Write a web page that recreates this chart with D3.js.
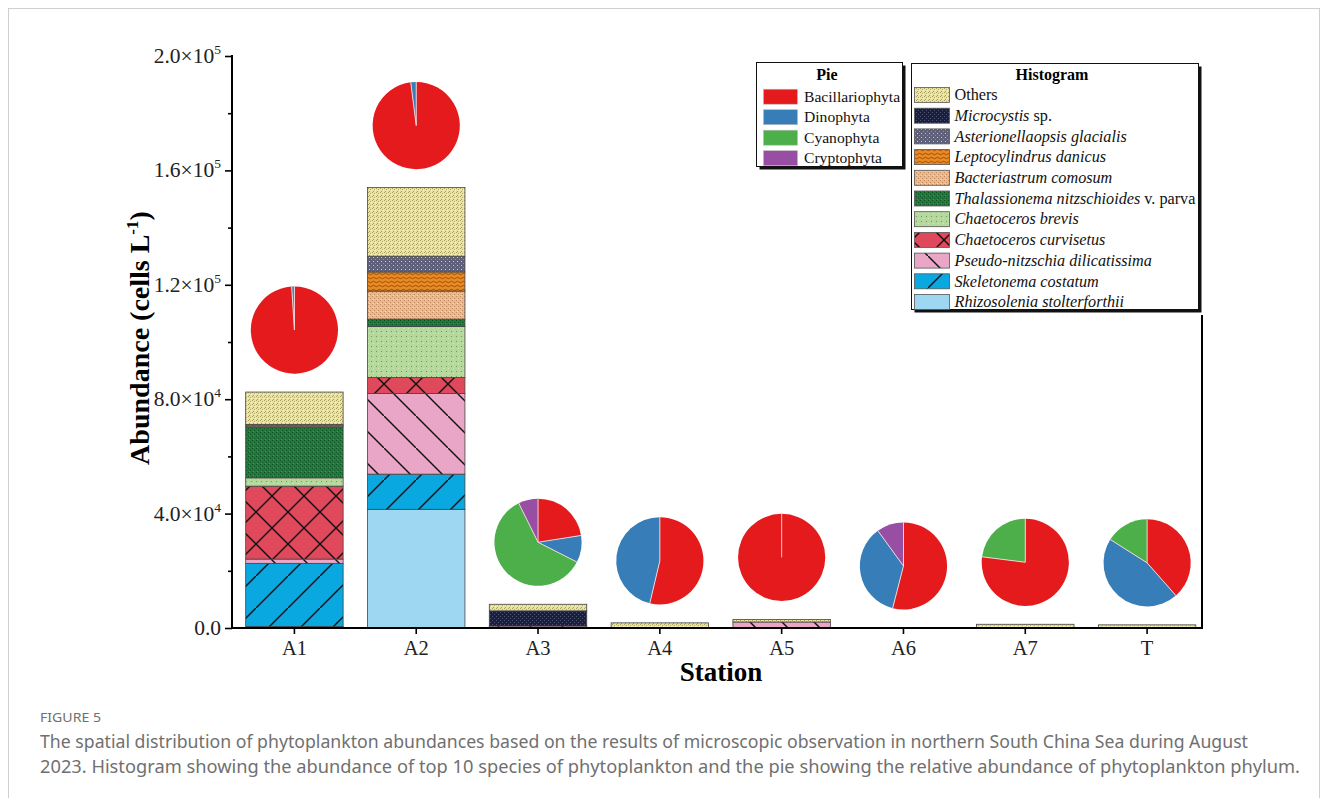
<!DOCTYPE html>
<html>
<head>
<meta charset="utf-8">
<script src="https://cdn.jsdelivr.net/npm/d3@7"></script>
<style>
  body { margin: 0; background: #fff; }
  svg { display: block; }
</style>
</head>
<body>
<svg id="chart" width="1328" height="798"></svg>
<script>
// ---- Data -------------------------------------------------------------
const stations = ["A1", "A2", "A3", "A4", "A5", "A6", "A7", "T"];

// Abundance of the top 10 species (cells L-1), stacked bottom to top
const rhizosolenia      = [500, 41500, 0, 0, 0, 0, 0, 0];
const skeletonema       = [22100, 12300, 0, 0, 0, 0, 0, 0];
const pseudoNitzschia   = [1500, 28200, 700, 0, 2100, 0, 0, 0];
const curvisetus        = [25500, 5600, 0, 0, 0, 0, 0, 0];
const brevis            = [2900, 17800, 0, 0, 0, 0, 0, 0];
const thalassionema     = [17800, 2600, 0, 0, 0, 0, 0, 0];
const bacteriastrum     = [400, 9800, 0, 0, 0, 0, 0, 0];
const leptocylindrus    = [500, 6700, 0, 0, 0, 0, 0, 0];
const asterionellaopsis = [0, 5500, 0, 0, 0, 0, 0, 0];
const microcystis       = [0, 0, 5300, 0, 0, 0, 0, 0];
const others            = [11300, 24000, 2300, 1800, 900, 0, 1300, 1100];

// Relative abundance of phyla (%) per station
const bacillariophyta = [99, 98, 22.5, 53.7, 100, 54, 77, 38.5];
const dinophyta       = [1, 2, 10, 46.3, 0, 36, 0, 45.5];
const cyanophyta      = [0, 0, 60.2, 0, 0, 0, 23, 16];
const cryptophyta     = [0, 0, 7.3, 0, 0, 10, 0, 0];

// Axis ticks
const yMajorTicks = [0, 40000, 80000, 120000, 160000, 200000];
const yMinorTicks = [20000, 60000, 100000, 140000, 180000];

// ---- Series definitions ------------------------------------------------
const speciesKeys = ["rhizosolenia", "skeletonema", "pseudoNitzschia", "curvisetus", "brevis",
  "thalassionema", "bacteriastrum", "leptocylindrus", "asterionellaopsis", "microcystis", "others"];
const speciesSeries = { rhizosolenia, skeletonema, pseudoNitzschia, curvisetus, brevis,
  thalassionema, bacteriastrum, leptocylindrus, asterionellaopsis, microcystis, others };
const speciesLabels = {
  others: [["Others", false]],
  microcystis: [["Microcystis", true], [" sp.", false]],
  asterionellaopsis: [["Asterionellaopsis glacialis", true]],
  leptocylindrus: [["Leptocylindrus danicus", true]],
  bacteriastrum: [["Bacteriastrum comosum", true]],
  thalassionema: [["Thalassionema nitzschioides", true], [" v. parva", false]],
  brevis: [["Chaetoceros brevis", true]],
  curvisetus: [["Chaetoceros curvisetus", true]],
  pseudoNitzschia: [["Pseudo-nitzschia dilicatissima", true]],
  skeletonema: [["Skeletonema costatum", true]],
  rhizosolenia: [["Rhizosolenia stolterforthii", true]]
};

const phylumNames = ["Bacillariophyta", "Dinophyta", "Cyanophyta", "Cryptophyta"];
const phylumSeries = [bacillariophyta, dinophyta, cyanophyta, cryptophyta];
const phylumColors = ["#e41a1c", "#377eb8", "#4daf4a", "#984ea3"];

// ---- Layout -------------------------------------------------------------
const svg = d3.select("#chart");
const serif = "'Liberation Serif', 'Times New Roman', serif";
const plot = { left: 232, right: 1202, top: 56, bottom: 628 };

const x = d3.scaleBand().domain(stations).range([233.5, 1208]).paddingInner(0.2).paddingOuter(0.1);
const y = d3.scaleLinear().domain([0, 200000]).range([plot.bottom, plot.top]);

// Outer figure frame
svg.append("rect").attr("x", 8.5).attr("y", 8.5).attr("width", 1311).attr("height", 800)
  .attr("fill", "none").attr("stroke", "#cfcfcf").attr("stroke-width", 1);

// ---- Fill patterns ------------------------------------------------------
const defs = svg.append("defs");

function dotPattern(id, base, size, dots) {
  const p = defs.append("pattern").attr("id", id).attr("patternUnits", "userSpaceOnUse")
    .attr("width", size).attr("height", size);
  p.append("rect").attr("width", size).attr("height", size).attr("fill", base);
  dots.forEach(([dx, dy, c]) => p.append("rect").attr("x", dx).attr("y", dy)
    .attr("width", 1).attr("height", 1).attr("fill", c));
}
function hatchPattern(id, base, paths) {
  const s = 32;
  const p = defs.append("pattern").attr("id", id).attr("patternUnits", "userSpaceOnUse")
    .attr("width", s).attr("height", s);
  p.append("rect").attr("width", s).attr("height", s).attr("fill", base);
  paths.forEach(d => p.append("path").attr("d", d).attr("stroke", "#111")
    .attr("stroke-width", 1.4).attr("fill", "none"));
}

dotPattern("p-others", "#e8e2a4", 4, [[0, 0, "#a9a05c"], [2, 1, "#b5ac68"], [1, 3, "#a9a05c"], [3, 2, "#f6f2cf"]]);
dotPattern("p-microcystis", "#1b1f38", 4, [[0, 0, "#4b5275"], [2, 2, "#4b5275"]]);
dotPattern("p-asterionellaopsis", "#5e6079", 4, [[1, 1, "#c9cbd8"], [3, 3, "#8d8fa5"]]);
dotPattern("p-bacteriastrum", "#ecb98e", 4, [[0, 0, "#c08a60"], [2, 2, "#c08a60"], [1, 3, "#f7d9bd"]]);
dotPattern("p-thalassionema", "#1f7b3b", 4, [[0, 0, "#0f4f23"], [2, 2, "#0f4f23"], [1, 3, "#3d9b58"]]);
dotPattern("p-brevis", "#b5d99c", 5, [[1, 1, "#6f9c5c"], [3, 3, "#cfe7bd"]]);
{
  const p = defs.append("pattern").attr("id", "p-leptocylindrus").attr("patternUnits", "userSpaceOnUse")
    .attr("width", 6).attr("height", 4);
  p.append("rect").attr("width", 6).attr("height", 4).attr("fill", "#e88a26");
  p.append("path").attr("d", "M0,2 Q1.5,0.5 3,2 T6,2").attr("stroke", "#8a4300")
    .attr("stroke-width", 0.8).attr("fill", "none");
}
hatchPattern("p-curvisetus", "#e0495b", ["M0,0 L32,32", "M0,32 L32,0"]);
hatchPattern("p-pseudoNitzschia", "#eaa6c7", ["M0,0 L32,32"]);
hatchPattern("p-skeletonema", "#0aa8e0", ["M0,32 L32,0"]);
defs.append("pattern").attr("id", "p-rhizosolenia").attr("patternUnits", "userSpaceOnUse")
  .attr("width", 4).attr("height", 4)
  .append("rect").attr("width", 4).attr("height", 4).attr("fill", "#9ed7f1");

const fillOf = k => `url(#p-${k})`;

// ---- Stacked bars ---------------------------------------------------------
const table = stations.map((s, i) => {
  const row = { station: s };
  speciesKeys.forEach(k => row[k] = speciesSeries[k][i]);
  return row;
});
const stacked = d3.stack().keys(speciesKeys)(table);

const barLayer = svg.append("g");
stacked.forEach(layer => {
  barLayer.append("g")
    .selectAll("rect")
    .data(layer.filter(d => d[1] - d[0] > 0))
    .join("rect")
    .attr("x", d => x(d.data.station))
    .attr("width", x.bandwidth())
    .attr("y", d => y(d[1]))
    .attr("height", d => y(d[0]) - y(d[1]))
    .attr("fill", fillOf(layer.key))
    .attr("stroke", "#444")
    .attr("stroke-width", 0.8);
});

// ---- Pies above each bar ----------------------------------------------------
const pieR = 43.6;
const pieGen = d3.pie().sort(null).value(d => d.v).startAngle(0).endAngle(2 * Math.PI);
const arcGen = d3.arc().innerRadius(0).outerRadius(pieR);
const totals = table.map(r => d3.sum(speciesKeys, k => r[k]));

stations.forEach((s, i) => {
  const cx = x(s) + x.bandwidth() / 2;
  const cy = y(totals[i]) - 62;
  const slices = pieGen(phylumNames.map((n, j) => ({ n, v: phylumSeries[j][i], c: phylumColors[j] })))
    .filter(d => d.data.v > 0);
  const g = svg.append("g").attr("transform", `translate(${cx},${cy})`);
  g.selectAll("path").data(slices).join("path")
    .attr("d", arcGen).attr("fill", d => d.data.c);
  // slice boundaries
  g.selectAll("line").data(slices).join("line")
    .attr("x1", 0).attr("y1", 0)
    .attr("x2", d => pieR * Math.sin(d.startAngle))
    .attr("y2", d => -pieR * Math.cos(d.startAngle))
    .attr("stroke", "#f6dede").attr("stroke-width", 0.9);
});

// ---- Axes ---------------------------------------------------------------
const yAxis = svg.append("g").attr("transform", `translate(${plot.left},0)`)
  .call(d3.axisLeft(y).tickValues(yMajorTicks).tickSize(7).tickFormat(""));
const yMinor = svg.append("g").attr("transform", `translate(${plot.left},0)`)
  .call(d3.axisLeft(y).tickValues(yMinorTicks).tickSize(4).tickFormat(""));
[yAxis, yMinor].forEach(a => {
  a.select(".domain").remove();
  a.selectAll("line").attr("stroke", "#000").attr("stroke-width", 1.6);
});

const xAxis = svg.append("g").attr("transform", `translate(0,${plot.bottom})`)
  .call(d3.axisBottom(x).tickSize(6).tickFormat(""));
xAxis.select(".domain").remove();
xAxis.selectAll("line").attr("stroke", "#000").attr("stroke-width", 1.6);

// frame lines: left, bottom, right
svg.append("path")
  .attr("d", `M${plot.left},${plot.top - 1}V${plot.bottom}H${plot.right}V${y(200000) + 259}`)
  .attr("fill", "none").attr("stroke", "#000").attr("stroke-width", 2);

// y tick labels in a×10^n form
const yLabels = svg.append("g").attr("font-family", serif).attr("fill", "#222");
yMajorTicks.forEach(v => {
  const t = yLabels.append("text").attr("x", 221).attr("y", y(v) + 7)
    .attr("text-anchor", "end").attr("font-size", 21.5);
  if (v === 0) { t.text("0.0"); return; }
  const e = Math.floor(Math.log10(v));
  const m = (v / Math.pow(10, e)).toFixed(1);
  t.append("tspan").text(`${m}×10`);
  t.append("tspan").attr("font-size", 13.5).attr("dy", -9).text(e);
});

// x tick labels
svg.append("g").attr("font-family", serif).attr("font-size", 20.5).attr("fill", "#222")
  .selectAll("text").data(stations).join("text")
  .attr("x", d => x(d) + x.bandwidth() / 2).attr("y", 655)
  .attr("text-anchor", "middle").text(d => d);

// axis titles
svg.append("text").attr("x", 721).attr("y", 681).attr("text-anchor", "middle")
  .attr("font-family", serif).attr("font-weight", "bold").attr("font-size", 27)
  .text("Station");

const yt = svg.append("text").attr("transform", "translate(149,338) rotate(-90)")
  .attr("text-anchor", "middle").attr("font-family", serif)
  .attr("font-weight", "bold").attr("font-size", 28);
yt.append("tspan").text("Abundance (cells L");
yt.append("tspan").attr("font-size", 17).attr("dy", -11).text("-1");
yt.append("tspan").attr("dy", 11).text(")");

// ---- Legends -------------------------------------------------------------
function legendBox(x0, y0, w, h, title, titleX, titleY) {
  const g = svg.append("g");
  g.append("rect").attr("x", x0 + 3).attr("y", y0 + 3).attr("width", w).attr("height", h).attr("fill", "#111");
  g.append("rect").attr("x", x0).attr("y", y0).attr("width", w).attr("height", h)
    .attr("fill", "#fff").attr("stroke", "#111").attr("stroke-width", 1);
  g.append("text").attr("x", titleX).attr("y", titleY).attr("text-anchor", "middle")
    .attr("font-family", serif).attr("font-weight", "bold").attr("font-size", 16).text(title);
  return g;
}

// Pie legend
const pieLeg = legendBox(756.5, 62.5, 146, 104, "Pie", 827, 80);
phylumNames.forEach((n, j) => {
  const cy = 96.7 + j * 20.5;
  pieLeg.append("rect").attr("x", 763.5).attr("y", cy - 7.5).attr("width", 34).attr("height", 15)
    .attr("fill", phylumColors[j]).attr("stroke", "#bbb").attr("stroke-width", 0.6);
  pieLeg.append("text").attr("x", 804).attr("y", cy + 5).attr("font-family", serif)
    .attr("font-size", 15.6).attr("fill", "#111").text(n);
});

// Histogram legend
const histLeg = legendBox(911.5, 63.5, 287, 246, "Histogram", 1052, 80);
speciesKeys.slice().reverse().forEach((k, j) => {
  const cy = 95 + j * 20.7;
  histLeg.append("rect").attr("x", 914.5).attr("y", cy - 7.5).attr("width", 35).attr("height", 15)
    .attr("fill", fillOf(k)).attr("stroke", "#555").attr("stroke-width", 0.8);
  const t = histLeg.append("text").attr("x", 954.5).attr("y", cy + 5.2).attr("font-family", serif)
    .attr("font-size", 16.2).attr("fill", "#111");
  speciesLabels[k].forEach(([txt, it]) => t.append("tspan")
    .attr("font-style", it ? "italic" : "normal").text(txt));
});

// ---- Caption ------------------------------------------------------------
const cap = svg.append("g").attr("font-family", "'Noto Sans', 'Open Sans', sans-serif").attr("fill", "#707070");
cap.append("text").attr("x", 40).attr("y", 722).attr("font-size", 12.5).attr("textLength", 61)
  .attr("lengthAdjust", "spacingAndGlyphs").text("FIGURE 5");
cap.append("text").attr("x", 40).attr("y", 748).attr("font-size", 17.5).attr("textLength", 1208)
  .attr("lengthAdjust", "spacingAndGlyphs")
  .text("The spatial distribution of phytoplankton abundances based on the results of microscopic observation in northern South China Sea during August");
cap.append("text").attr("x", 40).attr("y", 773).attr("font-size", 17.5).attr("textLength", 1260)
  .attr("lengthAdjust", "spacingAndGlyphs")
  .text("2023. Histogram showing the abundance of top 10 species of phytoplankton and the pie showing the relative abundance of phytoplankton phylum.");
</script>
</body>
</html>
